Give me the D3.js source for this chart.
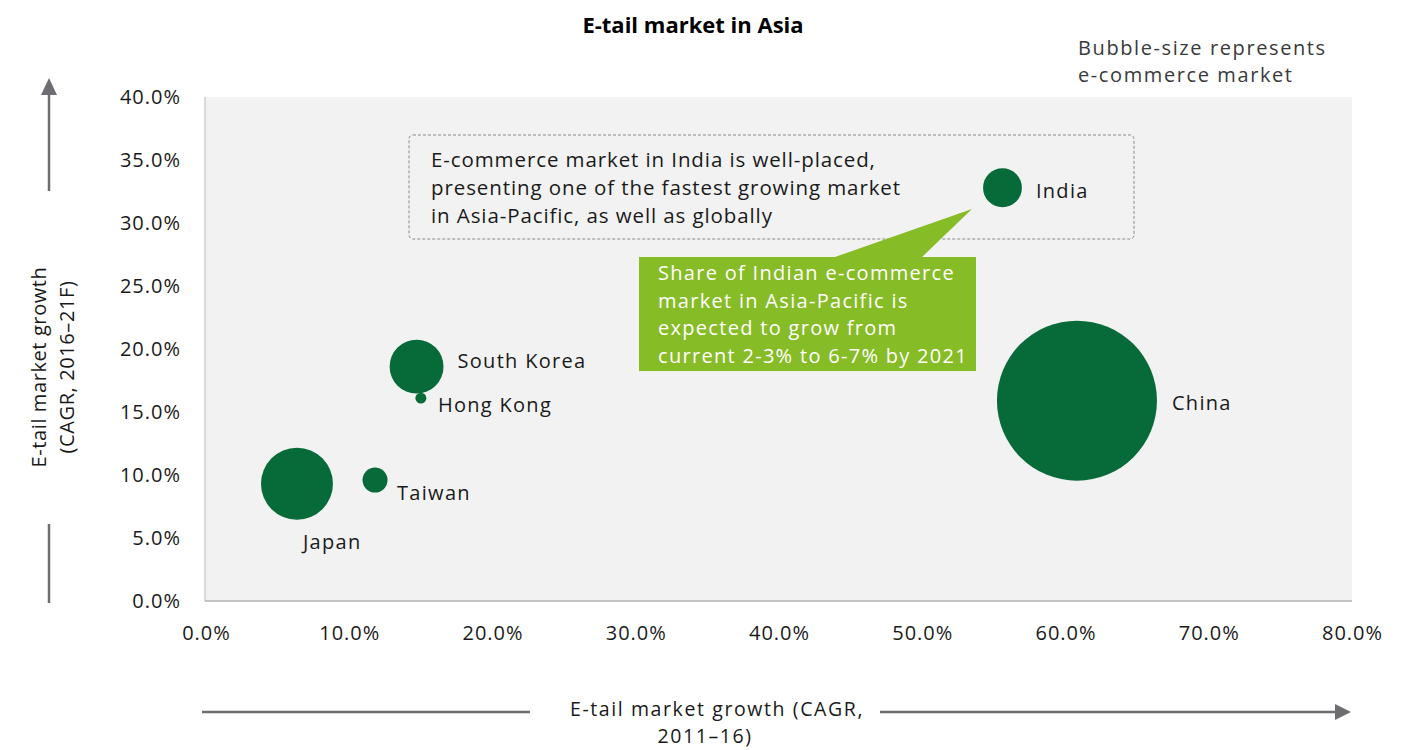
<!DOCTYPE html>
<html>
<head>
<meta charset="utf-8">
<script src="https://cdn.jsdelivr.net/npm/d3@7"></script>
<style>
  body { margin: 0; background: #fff; }
  svg text { font-family: "Open Sans", "Noto Sans", sans-serif; }
</style>
</head>
<body>
<div id="chart"></div>
<script>
// data
var countries = ["China", "India", "South Korea", "Hong Kong", "Japan", "Taiwan"];
var growthPast = [0.608, 0.556, 0.147, 0.150, 0.0635, 0.118];   // CAGR 2011-16
var growthFuture = [0.159, 0.328, 0.186, 0.161, 0.093, 0.096];  // CAGR 2016-21F
var marketSize = [899, 53, 102, 4.2, 182, 22];                   // bubble size
var xTicks = [0, 0.1, 0.2, 0.3, 0.4, 0.5, 0.6, 0.7, 0.8];
var yTicks = [0, 0.05, 0.1, 0.15, 0.2, 0.25, 0.3, 0.35, 0.4];

var noteLines = ["E-commerce market in India is well-placed,",
  "presenting one of the fastest growing market",
  "in Asia-Pacific, as well as globally"];
var calloutLines = ["Share of Indian e-commerce",
  "market in Asia-Pacific is",
  "expected to grow from",
  "current 2-3% to 6-7% by 2021"];

// where each label sits relative to its bubble (dx from edge / centre, dy)
var labelPlace = {
  "China": { fromEdge: true, dx: 15, dy: 9 },
  "India": { fromEdge: true, dx: 14, dy: 10 },
  "South Korea": { fromEdge: true, dx: 14, dy: 1 },
  "Hong Kong": { fromEdge: false, dx: 17, dy: 14 },
  "Japan": { fromEdge: false, dx: 6, dy: 65 },
  "Taiwan": { fromEdge: false, dx: 22, dy: 20 }
};

var W = 1417, H = 750;
var plot = { left: 206, right: 1352, top: 97, bottom: 601 };
var green = "#066b38", lime = "#86bc25", grey = "#6d6e71";

var svg = d3.select("#chart").append("svg")
  .attr("width", W)
  .attr("height", H);

var x = d3.scaleLinear().domain([0, 0.8]).range([plot.left, plot.right]);
var y = d3.scaleLinear().domain([0, 0.4]).range([plot.bottom, plot.top]);
var r = d3.scaleSqrt().domain([0, d3.max(marketSize)]).range([0, 80]);

// plot background
svg.append("rect")
  .attr("x", plot.left - 1).attr("y", plot.top)
  .attr("width", plot.right - plot.left + 1).attr("height", plot.bottom - plot.top)
  .attr("fill", "#f2f2f2");
svg.append("line")
  .attr("x1", plot.left - 1).attr("x2", plot.left - 1).attr("y1", plot.top).attr("y2", plot.bottom)
  .attr("stroke", "#cfcfcf").attr("stroke-width", 1.5);
svg.append("line")
  .attr("x1", plot.left - 1).attr("x2", plot.right).attr("y1", plot.bottom).attr("y2", plot.bottom)
  .attr("stroke", "#c4c4c4").attr("stroke-width", 2);

// axes
var fmt = d3.format(".1%");
var yAxis = svg.append("g")
  .attr("transform", "translate(" + plot.left + ",0)")
  .call(d3.axisLeft(y).tickValues(yTicks).tickFormat(fmt).tickSize(0).tickPadding(25));
var xAxis = svg.append("g")
  .attr("transform", "translate(0," + plot.bottom + ")")
  .call(d3.axisBottom(x).tickValues(xTicks).tickFormat(fmt).tickSize(0).tickPadding(25));
[xAxis, yAxis].forEach(function(a) {
  a.select(".domain").remove();
  a.selectAll("text")
    .style("font-family", "'Open Sans', sans-serif")
    .style("font-size", "20px")
    .style("letter-spacing", "1px")
    .attr("fill", "#1a1a1a");
});

// title
svg.append("text")
  .attr("x", 693).attr("y", 33)
  .attr("text-anchor", "middle")
  .style("font-size", "22px").style("font-weight", "bold")
  .attr("fill", "#000")
  .text("E-tail market in Asia");

// bubble-size legend note
svg.append("text")
  .attr("x", 1078).attr("y", 55)
  .style("font-size", "20px").style("letter-spacing", "1.6px")
  .attr("fill", "#3a3a3a")
  .selectAll("tspan")
  .data(["Bubble-size represents", "e-commerce market"])
  .enter().append("tspan")
  .attr("x", 1078)
  .attr("dy", function(d, i) { return i ? 27 : 0; })
  .text(function(d) { return d; });

// y axis title + arrow
svg.append("line")
  .attr("x1", 49).attr("x2", 49).attr("y1", 603).attr("y2", 524)
  .attr("stroke", grey).attr("stroke-width", 2.5);
svg.append("line")
  .attr("x1", 49).attr("x2", 49).attr("y1", 191).attr("y2", 92)
  .attr("stroke", grey).attr("stroke-width", 2.5);
svg.append("path")
  .attr("d", "M41,95 L49,78 L57,95 Z")
  .attr("fill", grey);
svg.append("text")
  .attr("transform", "translate(46,367) rotate(-90)")
  .attr("text-anchor", "middle")
  .style("font-size", "20px").style("letter-spacing", "0.6px")
  .attr("fill", "#1a1a1a")
  .selectAll("tspan")
  .data(["E-tail market growth", "(CAGR, 2016\u201321F)"])
  .enter().append("tspan")
  .attr("x", 0)
  .attr("dy", function(d, i) { return i ? 28 : 0; })
  .text(function(d) { return d; });

// x axis title + arrow
svg.append("line")
  .attr("x1", 202).attr("x2", 530).attr("y1", 712).attr("y2", 712)
  .attr("stroke", grey).attr("stroke-width", 2.5);
svg.append("line")
  .attr("x1", 880).attr("x2", 1338).attr("y1", 712).attr("y2", 712)
  .attr("stroke", grey).attr("stroke-width", 2.5);
svg.append("path")
  .attr("d", "M1335,704 L1351,712 L1335,720 Z")
  .attr("fill", grey);
svg.append("text")
  .attr("x", 717).attr("y", 716)
  .attr("text-anchor", "middle")
  .style("font-size", "19.5px").style("letter-spacing", "1.6px")
  .attr("fill", "#1a1a1a")
  .text("E-tail market growth (CAGR,");
svg.append("text")
  .attr("x", 705).attr("y", 743)
  .attr("text-anchor", "middle")
  .style("font-size", "19.5px").style("letter-spacing", "1.6px")
  .attr("fill", "#1a1a1a")
  .text("2011\u201316)");

// dashed note box
svg.append("rect")
  .attr("x", 409).attr("y", 135)
  .attr("width", 725).attr("height", 104)
  .attr("rx", 4)
  .attr("fill", "none")
  .attr("stroke", "#8a8a8a")
  .attr("stroke-width", 1)
  .attr("stroke-dasharray", "3,2");
svg.append("text")
  .attr("x", 431).attr("y", 167)
  .style("font-size", "20.5px").style("letter-spacing", "0.9px")
  .attr("fill", "#1a1a1a")
  .selectAll("tspan")
  .data(noteLines)
  .enter().append("tspan")
  .attr("x", 431)
  .attr("dy", function(d, i) { return i ? 28 : 0; })
  .text(function(d) { return d; });

// bubbles
var bubbles = countries.map(function(c, i) {
  return { name: c, gx: growthPast[i], gy: growthFuture[i], size: marketSize[i] };
});

svg.append("g").selectAll("circle")
  .data(bubbles)
  .enter().append("circle")
  .attr("cx", function(d) { return x(d.gx); })
  .attr("cy", function(d) { return y(d.gy); })
  .attr("r", function(d) { return r(d.size); })
  .attr("fill", green);

svg.append("g").selectAll("text")
  .data(bubbles)
  .enter().append("text")
  .attr("x", function(d) {
    var p = labelPlace[d.name];
    return x(d.gx) + (p.fromEdge ? r(d.size) : 0) + p.dx;
  })
  .attr("y", function(d) { return y(d.gy) + labelPlace[d.name].dy; })
  .style("font-size", "20px").style("letter-spacing", "1.3px")
  .attr("fill", "#1a1a1a")
  .text(function(d) { return d.name; });

// green callout pointing at India
svg.append("path")
  .attr("d", "M639,257 L835,257 L972,209 L922,257 L976,257 L976,371 L639,371 Z")
  .attr("fill", lime);
svg.append("text")
  .attr("x", 658).attr("y", 280)
  .style("font-size", "20px").style("letter-spacing", "1.3px")
  .attr("fill", "#fff")
  .selectAll("tspan")
  .data(calloutLines)
  .enter().append("tspan")
  .attr("x", 658)
  .attr("dy", function(d, i) { return i ? 27.5 : 0; })
  .text(function(d) { return d; });
</script>
</body>
</html>
